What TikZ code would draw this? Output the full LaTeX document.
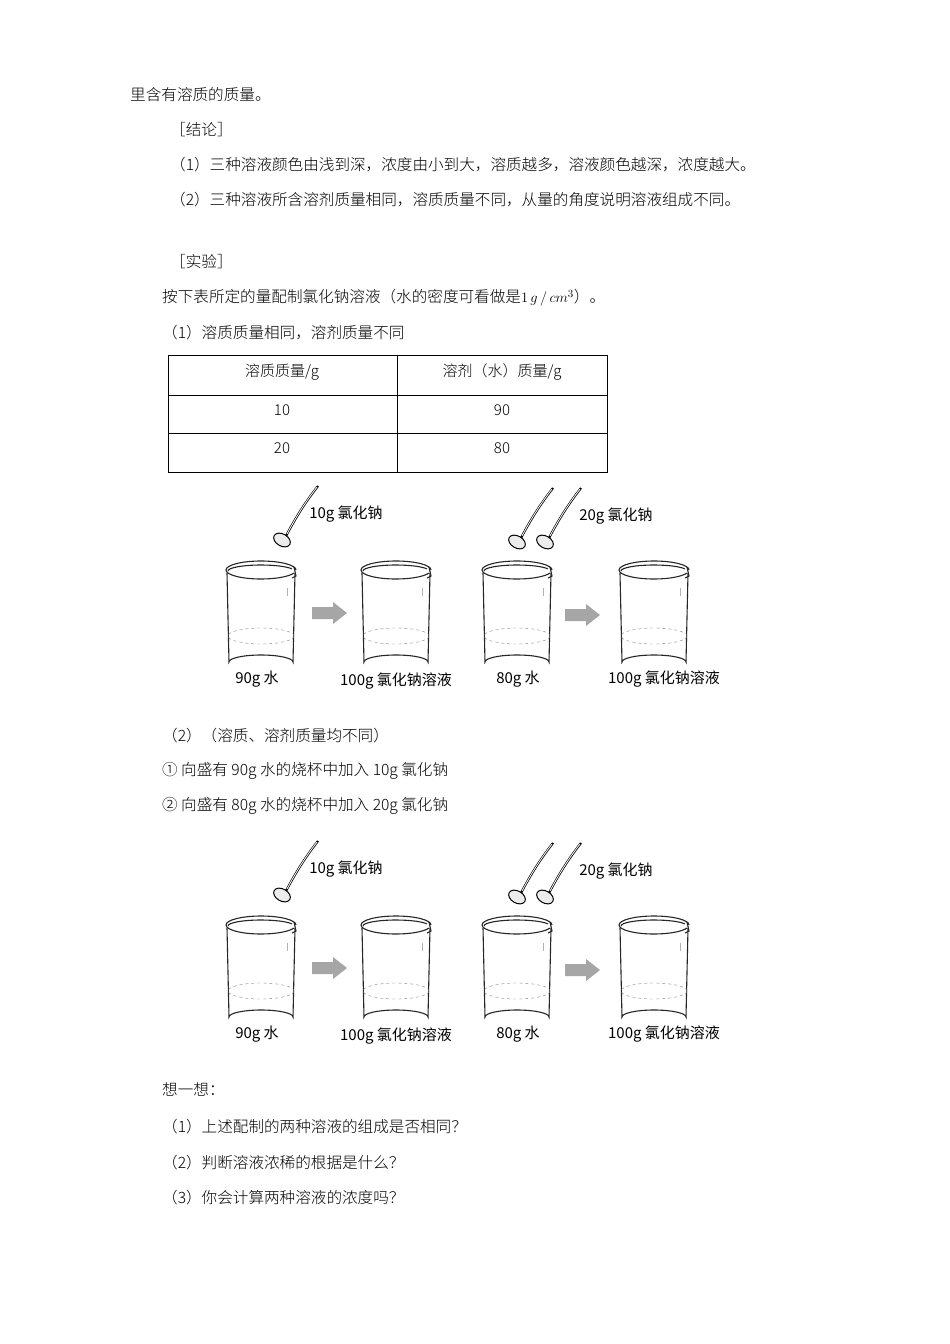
\documentclass[tikz,border=0pt]{standalone}
\usepackage{fontspec}
\setmainfont{Liberation Serif}
\newfontfamily\cjk{Noto Sans CJK SC}
\newfontfamily\cjkl{Noto Sans CJK SC Light}
\begin{document}
\begin{tikzpicture}[x=1pt,y=-1pt,
  txt/.style={anchor=west,inner sep=0pt,font=\fontsize{15.6}{17}\selectfont\cjkl},
  lab/.style={inner sep=0pt,font=\fontsize{15}{17}\selectfont\cjk},
  cell/.style={inner sep=0pt,font=\fontsize{15}{17}\selectfont\cjkl},
  bk/.style={line width=1.1pt,black!85},
  garrow/.style={fill=gray!70,draw=none},
  pics/beaker/.style={code={
    \draw[bk] (-35,0) arc[start angle=180,end angle=360,x radius=35,y radius=9];
    \draw[bk] (-35,0) arc[start angle=180,end angle=20,x radius=35,y radius=9];
    \draw[bk] (-33,1) arc[start angle=180,end angle=340,x radius=33,y radius=6];
    \draw[bk] (33,-3) -- (35,6) -- (31,8);
    \draw[bk] (-34,3) -- (-32,92) arc[start angle=180,end angle=360,x radius=32,y radius=7] -- (34,3);
    \draw[gray,dashed,thin] (0,66) ellipse[x radius=33,y radius=8];
    \draw[gray!60,thin] (26,18) -- (26,26);
  }},
  pics/spoon/.style={code={
    \draw[line width=2.2pt] (4,-4) .. controls (15,-25) and (25,-40) .. (36,-54);
    \draw[line width=0.8pt,white] (5,-6) .. controls (15,-25) and (25,-40) .. (35,-53);
    \draw[line width=1pt,fill=gray!15,rotate=-30] (0,0) ellipse[x radius=9,y radius=6];
  }}]
\useasboundingbox (0,0) rectangle (950,1344);
\fill[white] (0,0) rectangle (950,1344);
\node[txt] (t1) at (130,95) {里含有溶质的质量。};
\node[txt] (t2) at (170,130) {［结论］};
\node[txt] (t3) at (170,165) {（1）三种溶液颜色由浅到深，浓度由小到大，溶质越多，溶液颜色越深，浓度越大。};
\node[txt] (t4) at (170,200) {（2）三种溶液所含溶剂质量相同，溶质质量不同，从量的角度说明溶液组成不同。};
\node[txt] (t5) at (170,262) {［实验］};
\node[txt] (t6) at (162,298) {按下表所定的量配制氯化钠溶液（水的密度可看做是{\rmfamily$1\,g\,/\,cm^{3}$}）。};
\node[txt] (t7) at (162,333) {（1）溶质质量相同，溶剂质量不同};
% table
\draw[line width=0.8pt] (168,355) rectangle (607,472);
\draw[line width=0.8pt] (168,395) -- (607,395) (168,433) -- (607,433) (397,355) -- (397,472);
\node[cell] (c11) at (282,372) {溶质质量/g};
\node[cell] (c12) at (502,372) {溶剂（水）质量/g};
\node[cell] (c21) at (282,410) {10};
\node[cell] (c22) at (502,410) {90};
\node[cell] (c31) at (282,448) {20};
\node[cell] (c32) at (502,448) {80};
\foreach \dy/\nm in {0/a,355/b}{
\begin{scope}[yshift=-\dy]
 \pic at (261,570) {beaker};
 \pic at (396,570) {beaker};
 \pic at (517,570) {beaker};
 \pic at (654,570) {beaker};
 \fill[garrow] (312,607) -- (333,607) -- (333,602) -- (347,613) -- (333,624) -- (333,619) -- (312,619) -- cycle;
 \fill[garrow] (565,609) -- (586,609) -- (586,604) -- (600,615) -- (586,626) -- (586,621) -- (565,621) -- cycle;
 \pic at (282,540) {spoon};
 \pic at (517,542) {spoon};
 \pic at (545,542) {spoon};
 \node[lab] (s1\nm) at (346,514) {10g 氯化钠};
 \node[lab] (s2\nm) at (616,516) {20g 氯化钠};
 \node[lab] (w1\nm) at (257,679) {90g 水};
 \node[lab] (r1\nm) at (396,681) {100g 氯化钠溶液};
 \node[lab] (w2\nm) at (518,679) {80g 水};
 \node[lab] (r2\nm) at (664,679) {100g 氯化钠溶液};
\end{scope}}
\node[txt] (u1) at (162,736) {（2）（溶质、溶剂质量均不同）};
\node[txt] (u2) at (162,771) {① 向盛有 90g 水的烧杯中加入 10g 氯化钠};
\node[txt] (u3) at (162,806) {② 向盛有 80g 水的烧杯中加入 20g 氯化钠};
\node[txt] (v1) at (162,1089) {想一想：};
\node[txt] (v2) at (162,1127) {（1）上述配制的两种溶液的组成是否相同？};
\node[txt] (v3) at (162,1163) {（2）判断溶液浓稀的根据是什么？};
\node[txt] (v4) at (162,1198) {（3）你会计算两种溶液的浓度吗？};
\end{tikzpicture}
\end{document}
